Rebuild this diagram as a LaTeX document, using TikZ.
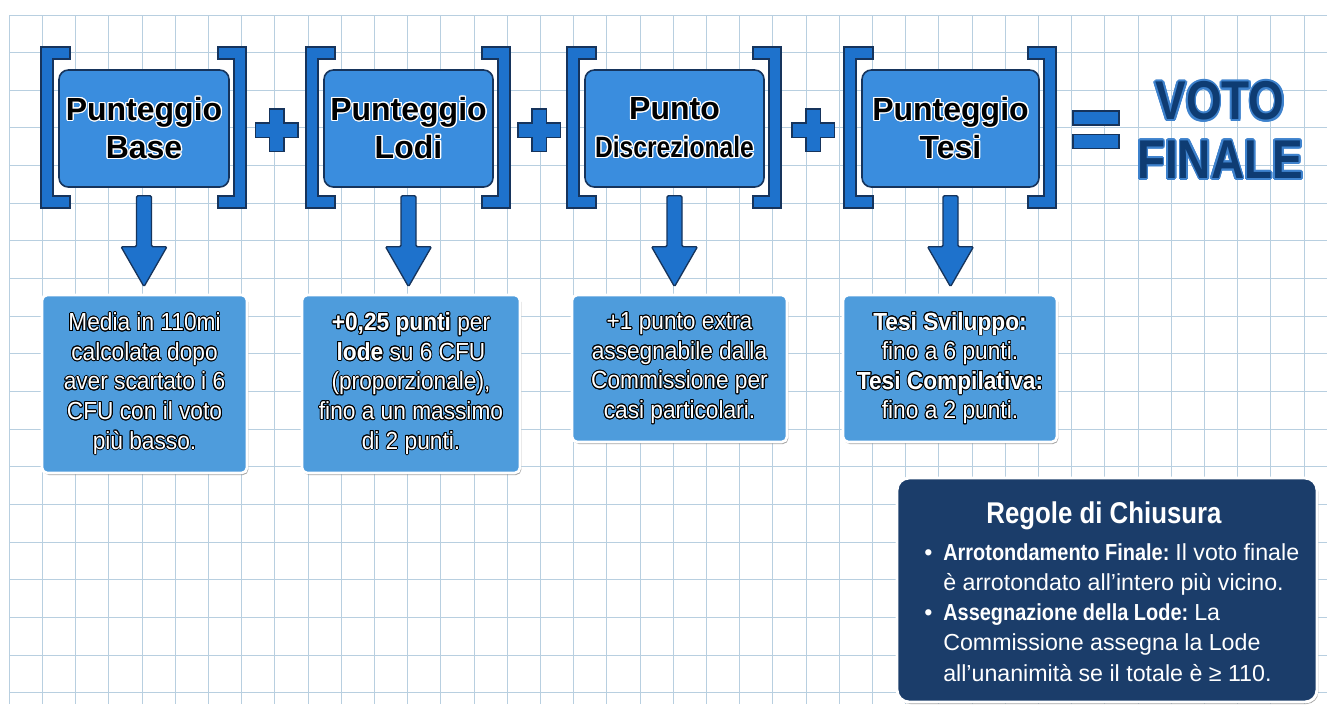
\documentclass[tikz,border=0pt]{standalone}
\usepackage{fontspec}
\setmainfont{Liberation Sans}
\newfontfamily\descfont{Liberation Sans}[FakeStretch=0.92]
\newfontfamily\narrowfont{Liberation Sans}[FakeStretch=0.84]
\newfontfamily\rulefont{Liberation Sans}[BoldFeatures={FakeStretch=0.86}]
\usepackage{contour}
\usepackage{xcolor}
\usetikzlibrary{calc,shadows}

\definecolor{headblue}{RGB}{58,141,222}
\definecolor{descblue}{RGB}{78,156,220}
\definecolor{brackblue}{RGB}{30,114,204}
\definecolor{navyline}{RGB}{22,52,92}
\definecolor{rulesnavy}{RGB}{27,61,106}
\definecolor{gridcol}{RGB}{184,207,224}
\definecolor{votonavy}{RGB}{14,60,115}
\definecolor{votoedge}{RGB}{62,130,205}

\newcommand{\blk}[1]{\contour{white}{#1}}
\newcommand{\wht}[1]{\contour{black}{#1}}

\begin{document}
\begin{tikzpicture}[x=0.75pt, y=-0.75pt,
  gridline/.style={draw=gridcol, line width=0.7pt},
  headbox/.style={draw=navyline, line width=1.2pt, fill=headblue,
                  rounded corners=7pt, minimum height=87.75pt, inner sep=0pt,
                  align=center, text=black,
                  font=\bfseries\fontsize{24}{28.5}\selectfont\contourlength{0.9pt}},
  descbox/.style={draw=white, line width=2pt, fill=descblue,
                  rounded corners=4pt, inner sep=0pt, align=center, text=white,
                  font=\descfont\fontsize{18.5}{22.2}\selectfont\contourlength{0.7pt},
                  drop shadow={shadow xshift=1pt, shadow yshift=-1.5pt,
                               opacity=0.35, fill=black}},
  rulebox/.style={draw=white, line width=2.2pt, fill=rulesnavy,
                  rounded corners=9pt, inner sep=0pt,
                  drop shadow={shadow xshift=1pt, shadow yshift=-1.5pt,
                               opacity=0.35, fill=black}},
  blockline/.style={line cap=rect, line join=miter},
  arrowblock/.style={fill=brackblue, draw=navyline, line width=1pt,
                     rounded corners=1pt},
]

% Grid paper
\fill[white] (0,0) rectangle (1327,704);
\useasboundingbox (0,0) rectangle (1327,704);
\foreach \i in {0,...,39}
  \draw[gridline] ({9.3+33.2*\i},15) -- ({9.3+33.2*\i},704);
\foreach \j in {0,...,18}
  \draw[gridline] (9.3,{15+37.65*\j}) -- (1327,{15+37.65*\j});

% Header boxes
\node[headbox, minimum width=127.5pt]  (base)  at (144,128.5)   {\blk{Punteggio}\\\blk{Base}};
\node[headbox, minimum width=126.75pt] (lodi)  at (408.5,128.5) {\blk{Punteggio}\\\blk{Lodi}};
\node[headbox, minimum width=134.25pt] (punto) at (674.5,128.5)
  {\blk{Punto}\\{\narrowfont\fontsize{22}{28.5}\selectfont\blk{Discrezionale}}};
\node[headbox, minimum width=132.75pt] (tesi)  at (950.5,128.5) {\blk{Punteggio}\\\blk{Tesi}};

% Brackets
\foreach \n in {base,lodi,punto,tesi}
  \foreach \w/\col in {13.5/navyline,10.5/brackblue}
    \draw[blockline, line width=\w*0.75pt, color=\col]
      ($(\n.north west)+(6,-16)$) -- ($(\n.north west)+(-11,-16)$)
      -- ($(\n.south west)+(-11,14)$) -- ($(\n.south west)+(6,14)$)
      ($(\n.north east)+(-6,-16)$) -- ($(\n.north east)+(10,-16)$)
      -- ($(\n.south east)+(10,14)$) -- ($(\n.south east)+(-6,14)$);

% Plus signs
\foreach \a/\b in {base/lodi,lodi/punto,punto/tesi}
  \foreach \w/\col in {16/navyline,13/brackblue}
    \draw[blockline, line width=\w*0.75pt, color=\col]
      ($(\a.east)!0.5!(\b.west)+(-14,1.5)$) -- ++(28,0)
      ($(\a.east)!0.5!(\b.west)+(0,-12.5)$) -- ++(0,28);

% Equals sign
\coordinate (eq) at ($(tesi.east)+(56,0)$);
\foreach \w/\col in {15.5/navyline,12.5/brackblue}
  \draw[blockline, line width=\w*0.75pt, color=\col]
    ($(eq)+(-16,-10.5)$) -- ++(32,0)
    ($(eq)+(-16,13)$) -- ++(32,0);

% Result
\node[font=\narrowfont\bfseries\fontsize{41}{44}\selectfont\contourlength{1.4pt},
      text=votonavy, align=center, inner sep=0pt] (voto) at (1220,131)
  {\contour{votoedge}{VOTO}\\\contour{votoedge}{FINALE}};

% Descriptions
\node[descbox, minimum width=153.75pt, minimum height=133.5pt] (dbase) at (144.5,384)
  {\wht{Media in 110mi}\\\wht{calcolata dopo}\\\wht{aver scartato i 6}\\
   \wht{CFU con il voto}\\\wht{più basso.}};
\node[descbox, minimum width=163.5pt, minimum height=133.5pt] (dlodi) at (411,384)
  {\wht{\textbf{+0,25 punti} per}\\\wht{\textbf{lode} su 6 CFU}\\\wht{(proporzionale),}\\
   \wht{fino a un massimo}\\\wht{di 2 punti.}};
\node[descbox, minimum width=161.25pt, minimum height=110.25pt] (dpunto) at (679.5,368.5)
  {\wht{+1 punto extra}\\\wht{assegnabile dalla}\\\wht{Commissione per}\\
   \wht{casi particolari.}};
\node[descbox, minimum width=160.5pt, minimum height=110.25pt] (dtesi) at (950,368.5)
  {\wht{\textbf{Tesi Sviluppo:}}\\\wht{fino a 6 punti.}\\\wht{\textbf{Tesi Compilativa:}}\\
   \wht{fino a 2 punti.}};

% Arrows down
\foreach \a/\b in {base/dbase,lodi/dlodi,punto/dpunto,tesi/dtesi}
  \filldraw[arrowblock] ($(\a.south)+(-7.5,8)$)
    -- ($(\a.south |- \b.north)+(-7.5,-47)$) -- ++(-15.5,0)
    -- ($(\a.south |- \b.north)+(0,-7)$)
    -- ($(\a.south |- \b.north)+(23,-47)$) -- ++(-15.5,0)
    -- ($(\a.south)+(7.5,8)$) -- cycle;

% Closing rules
\node[rulebox, minimum width=315pt, minimum height=168pt] (rules) at (1107,590) {};
\node[font=\rulefont\bfseries\fontsize{22.5}{26}\selectfont, text=white,
      anchor=base, inner sep=0pt] (rtitle) at (1104,523) {Regole di Chiusura};
\node[font=\rulefont\fontsize{17.4}{22.7}\selectfont, text=white, align=left,
      anchor=north west, inner sep=0pt] (rlist) at (924,543)
  {\makebox[14.25pt][l]{•}\textbf{Arrotondamento Finale:}\hspace{4.5pt}Il voto finale\\
   \hspace*{14.25pt}è arrotondato all’intero più vicino.\\
   \makebox[14.25pt][l]{•}\textbf{Assegnazione della Lode:}\hspace{4.5pt}La\\
   \hspace*{14.25pt}Commissione assegna la Lode\\
   \hspace*{14.25pt}all’unanimità se il totale è ≥ 110.};

\end{tikzpicture}
\end{document}
